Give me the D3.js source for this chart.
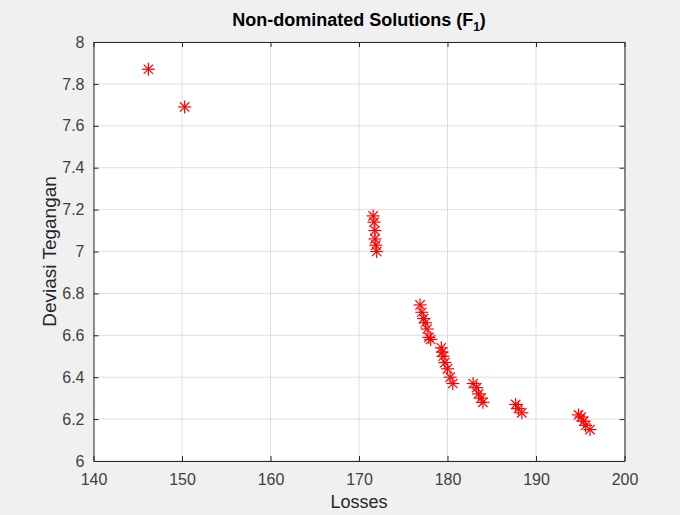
<!DOCTYPE html>
<html>
<head>
<meta charset="utf-8">
<script src="https://d3js.org/d3.v7.min.js"></script>
<style>
  body { margin: 0; background: #f0f0f0; }
  svg { display: block; font-family: "Liberation Sans", Arial, sans-serif; }
</style>
</head>
<body>
<svg id="chart" width="680" height="515"></svg>
<script>
// Pareto front values
const losses = [146.2, 150.3,
    171.6, 171.7, 171.8, 171.8, 171.9, 172.0,
    176.9, 177.1, 177.3, 177.5, 177.7, 177.9, 178.1,
    179.3, 179.4, 179.5, 179.7, 180.0, 180.3, 180.6,
    182.9, 183.3, 183.5, 183.8, 184.0,
    187.7, 188.0, 188.4,
    194.8, 195.1, 195.4, 195.6, 196.1];
const deviasi = [7.87, 7.69,
    7.17, 7.14, 7.10, 7.06, 7.03, 7.00,
    6.745, 6.71, 6.68, 6.66, 6.63, 6.59, 6.58,
    6.54, 6.52, 6.50, 6.47, 6.44, 6.40, 6.37,
    6.37, 6.35, 6.32, 6.30, 6.28,
    6.27, 6.25, 6.23,
    6.22, 6.21, 6.19, 6.17, 6.15];
const xTicks = [140, 150, 160, 170, 180, 190, 200];
const yTicks = [6, 6.2, 6.4, 6.6, 6.8, 7, 7.2, 7.4, 7.6, 7.8, 8];

const points = losses.map((v, i) => ({x: v, y: deviasi[i]}));

const svg = d3.select("#chart");
const pLeft = 93.5, pRight = 624.5, pTop = 42, pBottom = 461;

const x = d3.scaleLinear().domain([140, 200]).range([pLeft, pRight]);
const y = d3.scaleLinear().domain([6, 8]).range([pBottom, pTop]);

// white plot area
svg.append("rect")
    .attr("x", pLeft).attr("y", pTop)
    .attr("width", pRight - pLeft).attr("height", pBottom - pTop)
    .attr("fill", "#fff");

// grid
svg.append("g").selectAll("line").data(xTicks).enter().append("line")
    .attr("x1", d => x(d)).attr("x2", d => x(d))
    .attr("y1", pTop).attr("y2", pBottom)
    .attr("stroke", "#dfdfdf");
svg.append("g").selectAll("line").data(yTicks).enter().append("line")
    .attr("x1", pLeft).attr("x2", pRight)
    .attr("y1", d => y(d)).attr("y2", d => y(d))
    .attr("stroke", "#dfdfdf");

// axes, ticks pointing inward like matlab
const axisColor = "#262626";
const xAxis = svg.append("g")
    .attr("transform", `translate(0,${pBottom})`)
    .call(d3.axisBottom(x).tickValues(xTicks).tickSizeInner(-5).tickSizeOuter(0).tickPadding(13));
const yAxis = svg.append("g")
    .attr("transform", `translate(${pLeft},0)`)
    .call(d3.axisLeft(y).tickValues(yTicks).tickSizeInner(-5).tickSizeOuter(0).tickPadding(9)
        .tickFormat(d3.format("")));
const xTop = svg.append("g")
    .attr("transform", `translate(0,${pTop})`)
    .call(d3.axisTop(x).tickValues(xTicks).tickSizeInner(-5).tickSizeOuter(0).tickFormat(""));
const yRight = svg.append("g")
    .attr("transform", `translate(${pRight},0)`)
    .call(d3.axisRight(y).tickValues(yTicks).tickSizeInner(-5).tickSizeOuter(0).tickFormat(""));

[xAxis, yAxis, xTop, yRight].forEach(g => {
    g.selectAll("path, line").attr("stroke", axisColor);
    g.selectAll("text").attr("fill", "#404040").style("font-size", "16px");
});

// asterisk markers
const r = 6.5;
const star = svg.append("g").selectAll("g").data(points).enter().append("g")
    .attr("transform", d => `translate(${x(d.x)},${y(d.y)})`)
    .attr("stroke", "#ff0000").attr("stroke-width", 1.2);
star.append("line").attr("x1", -r).attr("x2", r).attr("y1", 0).attr("y2", 0);
star.append("line").attr("x1", 0).attr("x2", 0).attr("y1", -r).attr("y2", r);
star.append("line").attr("x1", -r * 0.72).attr("x2", r * 0.72).attr("y1", -r * 0.72).attr("y2", r * 0.72);
star.append("line").attr("x1", -r * 0.72).attr("x2", r * 0.72).attr("y1", r * 0.72).attr("y2", -r * 0.72);

// title
const title = svg.append("text")
    .attr("x", (pLeft + pRight) / 2).attr("y", 26)
    .attr("text-anchor", "middle")
    .attr("fill", "#000")
    .style("font-size", "18px").style("font-weight", "bold");
title.append("tspan").text("Non-dominated Solutions (F");
title.append("tspan").attr("dy", 5).style("font-size", "12px").text("1");
title.append("tspan").attr("dy", -5).text(")");

// axis labels
svg.append("text")
    .attr("x", (pLeft + pRight) / 2).attr("y", 508)
    .attr("text-anchor", "middle")
    .attr("fill", "#262626")
    .style("font-size", "18px")
    .text("Losses");

svg.append("text")
    .attr("transform", `translate(56,${(pTop + pBottom) / 2}) rotate(-90)`)
    .attr("text-anchor", "middle")
    .attr("fill", "#262626")
    .style("font-size", "19px")
    .text("Deviasi Tegangan");
</script>
</body>
</html>
